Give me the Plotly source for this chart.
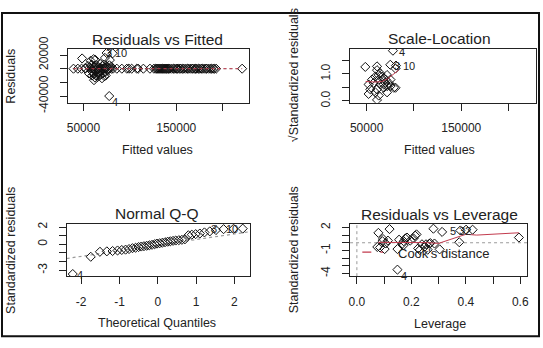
import plotly.graph_objects as go

W, H = 543, 348
FONT = "Liberation Sans"

# ---------------- data ----------------
# Residuals vs Fitted: observations with non-zero residuals
fitted_main = [48600, 61000, 57800, 75000, 81500, 73200, 78500, 77800, 55000, 57000,
               58500, 59000, 60000, 61000, 61400, 62000, 63000, 63500, 64000, 65000,
               65500, 66000, 67000, 68000, 68500, 69000, 70000, 70500, 71000, 72000,
               72500, 73000, 74000, 75000, 76000, 78000, 80000, 56000, 59500, 62500,
               66500, 70000, 74000, 52000, 62800]
resid_main = [15000, 14000, 11600, 23000, 22500, 15800, 12600, -40000, 4000, 2000,
              -3000, 6000, -5000, -8000, -16800, 3000, -2000, -10000, 5000, -6000,
              -12000, 2000, -4000, 7000, -9000, 1000, -3000, 4000, -7000, 6000,
              -11000, 2000, -5000, 3000, -2000, 5000, 3000, -7000, -10000, -13000,
              -8000, -14000, -10000, 1000, 13000]
# observations fitted exactly (residual 0)
fitted_zero = [39300, 44000, 48000, 52000, 58000, 60000, 62000, 64000, 66000, 68000,
               70000, 72000, 74000, 76000, 78000, 80000, 82000, 86000,
               91400, 96800, 99000, 102000, 107500, 109000, 114600, 121700, 126000, 128000,
               129000, 130000, 131000, 132000, 133000, 134000, 135000, 136000, 137000, 138000,
               139000, 140000, 141000, 142000, 143000, 145000, 147000, 148000,
               150000, 151000, 152000, 154000, 155000, 157000, 158000, 160000, 162000, 163000,
               165000, 167000, 168000, 170000, 171000, 172000, 174000,
               175000, 177000, 178000, 180000, 182000, 183000, 185000, 187000, 188000, 190000,
               191000, 193000, 221000]
resid_zero = [0] * len(fitted_zero)

# Scale-Location
sl_fitted = [77800, 48600, 61000, 61000, 75000, 81000, 80500, 64500, 59200, 55700,
             62800, 68100, 71600, 57400, 64500, 69900, 75200, 52100, 53900, 61000,
             68100, 71600, 75200, 78700, 59200, 52100, 62800, 71600, 80500, 61000,
             62800, 66300, 69900, 73400, 68100]
sl_sqrt = [1.86, 1.26, 1.28, 1.14, 1.34, 1.31, 1.20, 1.02, 0.90, 0.79,
           0.79, 0.85, 0.96, 0.67, 0.61, 0.67, 0.79, 0.61, 0.43, 0.43,
           0.49, 0.55, 0.55, 0.49, 0.32, 0.26, 0.20, 0.32, 0.49, 0.04,
           0.96, 0.90, 0.79, 0.67, 0.61]
sl_smooth_x = [49000, 55000, 60000, 66000, 72000, 78000, 84000]
sl_smooth_y = [0.72, 0.70, 0.70, 0.72, 0.82, 0.98, 1.15]

# Normal Q-Q
qq_theoretical = [-2.22, -1.75, -1.51, -1.33, -1.18, -1.05, -0.94, -0.84, -0.75, -0.66,
                  -0.58, -0.50, -0.43, -0.36, -0.29, -0.22, -0.15, -0.08, -0.02, 0.05,
                  0.12, 0.19, 0.26, 0.33, 0.40, 0.47, 0.55, 0.63, 0.71, 0.80,
                  0.89, 0.99, 1.10, 1.22, 1.36, 1.52, 1.72, 1.98, 2.22]
qq_sample = [-3.45, -1.45, -0.87, -0.82, -0.78, -0.72, -0.66, -0.62, -0.55, -0.45,
             -0.40, -0.32, -0.26, -0.22, -0.17, -0.12, -0.06, 0.02, 0.08, 0.12,
             0.18, 0.24, 0.30, 0.35, 0.40, 0.44, 0.48, 0.52, 0.58, 1.05,
             1.12, 1.18, 1.25, 1.38, 1.50, 1.65, 1.76, 1.80, 1.82]
qq_line = [-0.10, 0.65]  # intercept, slope

# Residuals vs Leverage
leverage = [0.079, 0.085, 0.096, 0.102, 0.114, 0.120, 0.149, 0.149, 0.155, 0.167,
            0.172, 0.178, 0.184, 0.172, 0.196, 0.208, 0.219, 0.225, 0.231, 0.239,
            0.250, 0.254, 0.260, 0.266, 0.270, 0.281, 0.285, 0.304, 0.313, 0.376,
            0.380, 0.401, 0.425, 0.595, 0.075, 0.094, 0.106, 0.214]
lev_std = [1.29, -0.61, 0.49, -0.82, 0.28, 1.78, -0.82, -3.50, 0.40, -0.12,
           0.20, 0.56, 0.68, -0.30, 0.28, 0.56, 1.09, -0.73, -0.94, -0.20,
           -0.50, -0.20, -0.90, -0.12, -0.05, 1.83, -0.10, -0.86, 1.41, 0.07,
           1.60, 1.70, 1.70, 0.68, -0.55, 0.20, -0.09, 0.93]
lev_smooth_x = [0.079, 0.15, 0.20, 0.25, 0.30, 0.35, 0.40, 0.44, 0.50, 0.55, 0.595]
lev_smooth_y = [0.05, 0.05, 0.05, 0.02, -0.08, 0.55, 1.10, 1.00, 1.08, 1.20, 1.30]
cook_legend_x = [0.02, 0.096]
cook_legend_y = [-1.22, -1.22]

# axis ticks
fit_ticks = [50000, 100000, 150000, 200000]
fit_ticktext = ["50000", "", "150000", ""]
res_ticks = [-40000, -20000, 0, 20000]
res_ticktext = ["-40000", "", "", "20000"]
sl_ticks = [0.0, 0.5, 1.0, 1.5]
sl_ticktext = ["0.0", "", "1.0", ""]
qqx_ticks = [-2, -1, 0, 1, 2]
qqx_ticktext = ["-2", "-1", "0", "1", "2"]
qqy_ticks = [-3, -2, -1, 0, 1, 2]
qqy_ticktext = ["-3", "", "", "0", "", "2"]
levx_ticks = [0.0, 0.1, 0.2, 0.3, 0.4, 0.5, 0.6]
levx_ticktext = ["0.0", "", "0.2", "", "0.4", "", "0.6"]
levy_ticks = [-4, -3, -2, -1, 0, 1, 2]
levy_ticktext = ["-4", "", "", "-1", "", "", "2"]

# ---------------- layout helpers ----------------
def px_x(p):
    return p / W

def px_y(p):
    return 1 - p / H

RED = "#c23b4e"
GREY = "#9a9a9a"
PT = dict(symbol="diamond-open", size=7, color="#111", line=dict(width=1, color="#111"))

fig = go.Figure()

# panel 1
fig.add_trace(go.Scatter(x=[min(fitted_zero), max(fitted_zero)], y=[0, 0], mode="lines",
                         line=dict(color=GREY, width=1, dash="dot"), xaxis="x", yaxis="y"))
fig.add_trace(go.Scatter(x=fitted_main + fitted_zero, y=resid_main + resid_zero, mode="markers",
                         marker=PT, xaxis="x", yaxis="y"))
fig.add_trace(go.Scatter(x=[min(fitted_zero), max(fitted_zero)], y=[0, 0], mode="lines",
                         line=dict(color=RED, width=1, dash="dot"), xaxis="x", yaxis="y"))

# panel 2
fig.add_trace(go.Scatter(x=sl_fitted, y=sl_sqrt, mode="markers", marker=PT, xaxis="x2", yaxis="y2"))
fig.add_trace(go.Scatter(x=sl_smooth_x, y=sl_smooth_y, mode="lines",
                         line=dict(color=RED, width=1), xaxis="x2", yaxis="y2"))

# panel 3
qx_rng = [-2.38, 2.40]
fig.add_trace(go.Scatter(x=qx_rng, y=[qq_line[0] + qq_line[1] * v for v in qx_rng], mode="lines",
                         line=dict(color=GREY, width=1.2, dash="dot"), xaxis="x3", yaxis="y3"))
fig.add_trace(go.Scatter(x=qq_theoretical, y=qq_sample, mode="markers", marker=PT, xaxis="x3", yaxis="y3"))

# panel 4
lx_rng = [-0.025, 0.625]
ly_rng = [-4.35, 2.48]
fig.add_trace(go.Scatter(x=lx_rng, y=[0, 0], mode="lines", line=dict(color=GREY, width=1, dash="dot"),
                         xaxis="x4", yaxis="y4"))
fig.add_trace(go.Scatter(x=[0, 0], y=ly_rng, mode="lines", line=dict(color=GREY, width=1, dash="dot"),
                         xaxis="x4", yaxis="y4"))
fig.add_trace(go.Scatter(x=leverage, y=lev_std, mode="markers", marker=PT, xaxis="x4", yaxis="y4"))
fig.add_trace(go.Scatter(x=lev_smooth_x, y=lev_smooth_y, mode="lines", line=dict(color=RED, width=1),
                         xaxis="x4", yaxis="y4"))
fig.add_trace(go.Scatter(x=cook_legend_x, y=cook_legend_y, mode="lines",
                         line=dict(color=RED, width=1.2, dash="dash"), xaxis="x4", yaxis="y4"))

tickfont = dict(family=FONT, size=12, color="#222")

def ax(domain, rng, tv, tt, anchor, is_y=False):
    d = dict(domain=domain, range=rng, tickvals=tv, ticktext=tt, anchor=anchor,
             showline=True, linecolor="#222", linewidth=1, mirror=True,
             ticks="outside", ticklen=7, tickwidth=1, tickcolor="#222",
             showgrid=False, zeroline=False, tickfont=tickfont, fixedrange=True,
             ticklabelstandoff=7)
    if is_y:
        d["tickangle"] = -90
    return d

xd_left = [px_x(67), px_x(249)]
xd_right = [px_x(351), px_x(538)]
xd_left3 = [px_x(66), px_x(250)]
xd_right4 = [px_x(351), px_x(529)]
yd_top = [px_y(97), px_y(39)]
yd_bot = [px_y(282), px_y(226)]

fig.update_layout(
    width=W, height=H, margin=dict(l=0, r=0, t=0, b=0),
    paper_bgcolor="white", plot_bgcolor="white", showlegend=False,
    font=dict(family=FONT, color="#222"),
    xaxis=ax(xd_left, [33000, 228000], fit_ticks, fit_ticktext, "y"),
    yaxis=ax(yd_top, [-50000, 29500], res_ticks, res_ticktext, "x", True),
    xaxis2=ax(xd_right, [32500, 229000], fit_ticks, fit_ticktext, "y2"),
    yaxis2=ax(yd_top, [-0.07, 1.94], sl_ticks, sl_ticktext, "x2", True),
    xaxis3=ax(xd_left3, qx_rng, qqx_ticks, qqx_ticktext, "y3"),
    yaxis3=ax(yd_bot, [-3.7, 2.39], qqy_ticks, qqy_ticktext, "x3", True),
    xaxis4=ax(xd_right4, lx_rng, levx_ticks, levx_ticktext, "y4"),
    yaxis4=ax(yd_bot, ly_rng, levy_ticks, levy_ticktext, "x4", True),
)

annots = []

def paper_text(text, x, y, size, angle=0):
    annots.append(dict(text=text, x=px_x(x), y=px_y(y), xref="paper", yref="paper",
                       showarrow=False, xanchor="center", yanchor="middle", textangle=angle,
                       borderpad=0, font=dict(family=FONT, size=size, color="#222")))

# titles
paper_text("Residuals vs Fitted", 157, 29, 15.5)
paper_text("Scale-Location", 441, 28.5, 15.5)
paper_text("Normal Q-Q", 157, 215, 15.5)
paper_text("Residuals vs Leverage", 441, 216, 15.5)
# axis titles
paper_text("Fitted values", 157, 147, 12.5)
paper_text("Fitted values", 441, 147, 12.5)
paper_text("Theoretical Quantiles", 157, 332, 12.5)
paper_text("Leverage", 441, 333, 12.5)
paper_text("Residuals", 10, 68, 12.5, -90)
paper_text("√Standardized residuals", 294, 67, 12.5, -90)
paper_text("Standardized residuals", 10, 254, 12.5, -90)
paper_text("Standardized residuals", 295, 254, 12.5, -90)

def data_text(text, x, y, xr, yr, anchor="center", size=11):
    annots.append(dict(text=text, x=x, y=y, xref=xr, yref=yr, showarrow=False,
                       xanchor=anchor, yanchor="middle", borderpad=0,
                       font=dict(family=FONT, size=size, color="#222")))

# point labels (pairs set side by side)
data_text("3", 82100, 22500, "x", "y", "right")
data_text("10", 83300, 22500, "x", "y", "left")
data_text("4", 84000, -48000, "x", "y")
data_text("4", 87200, 1.80, "x2", "y2")
data_text("3", 86400, 1.31, "x2", "y2", "right")
data_text("10", 87500, 1.31, "x2", "y2", "left")
data_text("4", -2.03, -3.55, "x3", "y3")
data_text("3", 1.58, 1.80, "x3", "y3", "right")
data_text("10", 1.75, 1.78, "x3", "y3", "left")
data_text("5", 0.368, 1.59, "x4", "y4", "right")
data_text("32", 0.372, 1.59, "x4", "y4", "left")
data_text("4", 0.173, -4.30, "x4", "y4")
annots.append(dict(text="Cook's distance", x=0.148, y=-1.34, xref="x4", yref="y4", showarrow=False,
                   xanchor="left", yanchor="middle", borderpad=0,
                   font=dict(family=FONT, size=13, color="#222")))

fig.update_layout(annotations=annots)

# outer frame
fig.add_shape(type="rect", xref="paper", yref="paper", x0=px_x(1), x1=px_x(541), y0=px_y(346), y1=px_y(1),
              line=dict(color="#111", width=2))

fig.write_html("out.html")
